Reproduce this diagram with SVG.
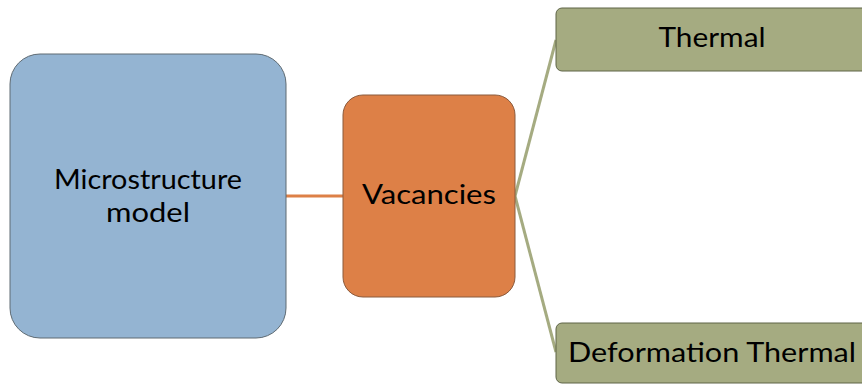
<svg xmlns="http://www.w3.org/2000/svg" width="862" height="384" viewBox="0 0 862 384">
  <style>
    .lbl { font-family: "Lato", "Noto Sans", "DejaVu Sans", sans-serif; font-size: 27px; fill: #000; text-anchor: middle; }
    .box { stroke: #5f6b73; stroke-width: 1; }
    .blue { fill: #94b4d2; }
    .orange { fill: #dd8047; stroke: #8a5a3c; }
    .green { fill: #a5ab81; stroke: #5e6447; }
    .c-orange { stroke: #dd8047; stroke-width: 3; fill: none; }
    .c-green { stroke: #a5ab81; stroke-width: 3; fill: none; }
  </style>
  <rect width="862" height="384" fill="#ffffff"/>

  <!-- connectors -->
  <g id="connectors">
    <line class="c-orange" x1="286" y1="196" x2="343" y2="196"/>
    <line class="c-green" x1="515" y1="196" x2="556" y2="40"/>
    <line class="c-green" x1="515" y1="196" x2="556" y2="352"/>
  </g>

  <g id="microstructure">
    <rect class="box blue" x="10" y="54" width="276" height="284" rx="30" ry="30"/>
    <text class="lbl" x="148" y="189" textLength="188" lengthAdjust="spacingAndGlyphs">Microstructure</text>
    <text class="lbl" x="148" y="222" textLength="84" lengthAdjust="spacingAndGlyphs">model</text>
  </g>

  <g id="vacancies">
    <rect class="box orange" x="343" y="95" width="172" height="202" rx="20" ry="20"/>
    <text class="lbl" x="429" y="204" textLength="134" lengthAdjust="spacingAndGlyphs">Vacancies</text>
  </g>

  <g id="thermal">
    <rect class="box green" x="556" y="8" width="312" height="63" rx="6" ry="6"/>
    <text class="lbl" x="712" y="47" textLength="107" lengthAdjust="spacingAndGlyphs">Thermal</text>
  </g>

  <g id="deformation-thermal">
    <rect class="box green" x="556" y="323" width="312" height="60" rx="6" ry="6"/>
    <text class="lbl" x="712" y="362" textLength="288" lengthAdjust="spacingAndGlyphs">Deformation Thermal</text>
  </g>
</svg>
